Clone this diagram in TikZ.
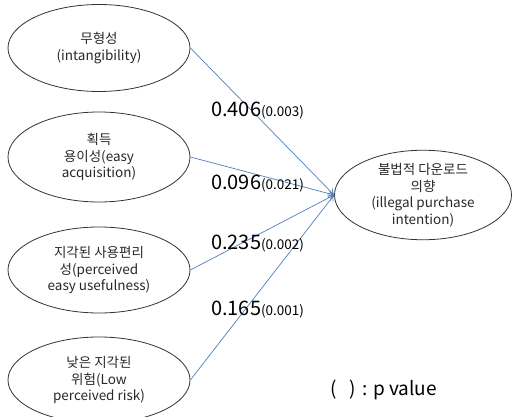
\documentclass[tikz,border=0pt]{standalone}
\usepackage{fontspec}
\setmainfont{Noto Sans CJK KR}
\usetikzlibrary{shapes.geometric,arrows.meta}
\definecolor{linkblue}{RGB}{79,129,189}
\definecolor{txtgray}{RGB}{40,40,40}
\newcommand\myPsize{\fontsize{13.5}{13.5}\selectfont}
\tikzset{
  factor/.style={ellipse,draw=black!80,line width=0.8pt,inner sep=0pt,minimum width=182pt,minimum height=87pt,align=center,font=\fontsize{13.5}{16.5}\selectfont,text=txtgray},
  link/.style={draw=linkblue,line width=0.7pt,-{To[length=6pt,width=7pt]}},
  coef/.style={anchor=base west,inner sep=0pt,font=\fontsize{20}{20}\selectfont}
}
\begin{document}
\begin{tikzpicture}[x=1pt,y=-1pt]
\useasboundingbox (0,0) rectangle (512,417);
\clip (0,0) rectangle (512,417);
\fill[white] (0,0) rectangle (512,417);
\node[factor] (e1) at (99,48) {무형성\\(intangibility)};
\node[factor,minimum height=90pt] (e2) at (99,157) {획득\\용이성(easy\\acquisition)};
\node[factor,minimum height=86pt] (e3) at (99,270) {지각된 사용편리\\성(perceived\\easy usefulness)};
\node[factor,minimum height=86pt] (e4) at (99,380) {낮은 지각된\\위험(Low\\perceived risk)};
\node[factor,minimum width=177pt,minimum height=86pt] (t) at (423,195) {불법적 다운로드\\의향\\(illegal purchase\\intention)};
\draw[link] (e1.east) -- (t.west);
\draw[link] (e2.east) -- (t.west);
\draw[link] (e3.east) -- (t.west);
\draw[link] (e4.east) -- (t.west);
\node[coef] (c1) at (211,117) {0.406{\myPsize(0.003)}};
\node[coef] (c2) at (211,190) {0.096{\myPsize(0.021)}};
\node[coef] (c3) at (211,250) {0.235{\myPsize(0.002)}};
\node[coef] (c4) at (211,315) {0.165{\myPsize(0.001)}};
\node[anchor=base west,inner sep=0pt,font=\fontsize{19}{19}\selectfont] (leg) at (330,395) {(\hspace{13pt})\hspace{2pt} : p value};
\end{tikzpicture}
\end{document}
